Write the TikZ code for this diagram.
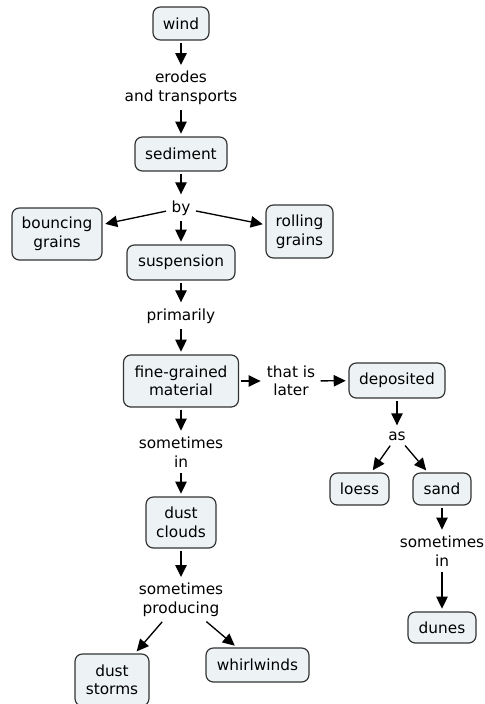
\documentclass[tikz,border=0pt]{standalone}
\usepackage{fontspec}
\setmainfont{DejaVu Sans}
\usetikzlibrary{arrows.meta}
\definecolor{boxfill}{HTML}{EDF3F5}
\definecolor{boxline}{HTML}{333333}
\tikzset{
  cbox/.style={draw=boxline, fill=boxfill, rounded corners=5.5pt, line width=0.9pt,
    align=center, inner sep=0pt, font=\fontsize{11.5pt}{13.9pt}\selectfont},
  bx/.style 2 args={minimum width=#1*0.75pt, minimum height=#2*0.75pt},
  lab/.style={align=center, inner sep=2.5pt, font=\fontsize{11.5pt}{13.9pt}\selectfont},
  arr/.style={-{Triangle[length=9pt,width=8.5pt]}, line width=1pt, black,
    shorten <=1.5pt, shorten >=2pt},
}
\begin{document}
\begin{tikzpicture}[x=0.75pt,y=-0.75pt]
\fill[white] (0,0) rectangle (485,704);
\clip (0,0) rectangle (485,704);
\useasboundingbox (0,0) rectangle (485,704);
% concepts
\node[cbox,bx={56}{33}] (wind) at (181,23.5) {wind};
\node[cbox,bx={92}{34}] (sediment) at (181,154) {sediment};
\node[cbox,bx={90}{52}] (bouncing) at (57,234) {bouncing\\grains};
\node[cbox,bx={67}{53}] (rolling) at (299.5,231.5) {rolling\\grains};
\node[cbox,bx={108}{35}] (suspension) at (181,262.5) {suspension};
\node[cbox,bx={115}{52}] (fg) at (181,381) {fine-grained\\material};
\node[cbox,bx={96}{35}] (deposited) at (397,380.5) {deposited};
\node[cbox,bx={59}{32}] (loess) at (359.5,489) {loess};
\node[cbox,bx={58}{32}] (sand) at (442,489) {sand};
\node[cbox,bx={68}{31}] (dunes) at (442,627.5) {dunes};
\node[cbox,bx={70}{51}] (dustclouds) at (181,522.5) {dust\\clouds};
\node[cbox,bx={74}{52}] (duststorms) at (112,680) {dust\\storms};
\node[cbox,bx={103}{34}] (whirlwinds) at (257.5,665) {whirlwinds};
% linking phrases
\node[lab] (erodes) at (181,88) {erodes\\and transports};
\node[lab] (by) at (181,208) {by};
\node[lab] (primarily) at (181,316) {primarily};
\node[lab] (thatis) at (291,381) {that is\\later};
\node[lab] (as) at (397,436) {as};
\node[lab] (sometimesR) at (442,551) {sometimes\\in};
\node[lab] (sometimesL) at (181,452) {sometimes\\in};
\node[lab] (producing) at (181,600) {sometimes\\producing};
% connectors
\draw[arr] (wind) -- (erodes);
\draw[arr] (erodes) -- (sediment);
\draw[arr] (sediment) -- (by);
\draw[arr] (by) -- (bouncing);
\draw[arr] (by) -- (rolling);
\draw[arr] (by) -- (suspension);
\draw[arr] (suspension) -- (primarily);
\draw[arr] (primarily) -- (fg);
\draw[arr] (fg) -- (thatis);
\draw[arr] (thatis) -- (deposited);
\draw[arr] (deposited) -- (as);
\draw[arr] (as) -- (loess);
\draw[arr] (as) -- (sand);
\draw[arr] (sand) -- (sometimesR);
\draw[arr] (sometimesR) -- (dunes);
\draw[arr] (fg) -- (sometimesL);
\draw[arr] (sometimesL) -- (dustclouds);
\draw[arr] (dustclouds) -- (producing);
\draw[arr] (producing) -- (duststorms);
\draw[arr] (producing) -- (whirlwinds);
\end{tikzpicture}
\end{document}
